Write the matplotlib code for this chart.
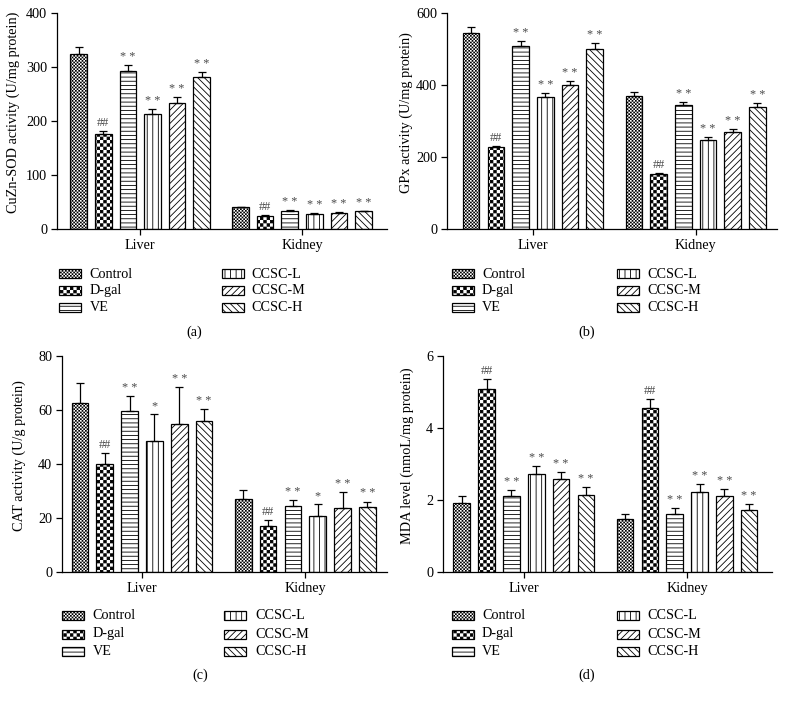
import numpy as np
import matplotlib
matplotlib.use("Agg")
import matplotlib.pyplot as plt
import matplotlib.hatch as mhatch
from matplotlib.path import Path
from matplotlib.patches import Rectangle

# ---------------- data ----------------
tissues = ["Liver", "Kidney"]
groups = ["Control", "D-gal", "VE", "CCSC-L", "CCSC-M", "CCSC-H"]

sod_liver = [325, 176, 293, 213, 233, 281]
sod_liver_err = [12, 5, 11, 9, 11, 10]
sod_kidney = [40, 25, 34, 28, 30, 33]
sod_kidney_err = [1, 1, 1, 1, 1, 1]

gpx_liver = [544, 227, 507, 368, 399, 501]
gpx_liver_err = [16, 4, 15, 10, 12, 16]
gpx_kidney = [369, 153, 344, 248, 269, 340]
gpx_kidney_err = [11, 3, 8, 8, 9, 9]

cat_liver = [62.5, 39.9, 59.5, 48.6, 54.7, 56.0]
cat_liver_err = [7.4, 4.1, 5.6, 9.8, 13.9, 4.5]
cat_kidney = [27.1, 17.2, 24.6, 20.9, 23.8, 24.2]
cat_kidney_err = [3.1, 1.9, 1.9, 4.3, 5.7, 1.9]

mda_liver = [1.91, 5.07, 2.12, 2.71, 2.59, 2.15]
mda_liver_err = [0.19, 0.28, 0.16, 0.24, 0.18, 0.20]
mda_kidney = [1.47, 4.55, 1.61, 2.23, 2.12, 1.73]
mda_kidney_err = [0.15, 0.26, 0.16, 0.21, 0.18, 0.15]

sig_std = ["", "##", "**", "**", "**", "**"]
sig_cat = ["", "##", "**", "*", "**", "**"]

ylabels = ["CuZn-SOD activity (U/mg protein)", "GPx activity (U/mg protein)",
           "CAT activity (U/g protein)", "MDA level (nmoL/mg protein)"]
yticks_list = [[0, 100, 200, 300, 400], [0, 200, 400, 600],
               [0, 20, 40, 60, 80], [0, 2, 4, 6]]
captions = ["(a)", "(b)", "(c)", "(d)"]

# ---------------- custom checker hatches ----------------
HATCH_LW = 0.6
plt.rcParams['hatch.linewidth'] = HATCH_LW
plt.rcParams['hatch.color'] = 'black'
_lw_px = HATCH_LW * 100 / 72.0


class _Checker(mhatch.HatchPatternBase):
    char = 'O'

    def __init__(self, hatch, density):
        n = int(hatch.count(self.char) * density)
        if n % 2:
            n += 1
        self.n = n
        self.num_vertices = (n * n // 2) * 5 if n else 0

    def set_vertices_and_codes(self, vertices, codes):
        n = self.n
        s = 1.0 / n
        sh = (_lw_px / 2.0) / 100.0
        verts = []
        for i in range(n):
            for j in range(n):
                if (i + j) % 2 == 0:
                    x0, y0 = i * s + sh, j * s + sh
                    x1, y1 = (i + 1) * s - sh, (j + 1) * s - sh
                    verts.extend([(x0, y0), (x1, y0), (x1, y1), (x0, y1), (x0, y0)])
        vertices[:] = np.array(verts)
        codes[:] = [Path.MOVETO, Path.LINETO, Path.LINETO, Path.LINETO,
                    Path.CLOSEPOLY] * (n * n // 2)


class _FineChecker(_Checker):
    char = 'o'


class _CoarseChecker(_Checker):
    char = 'O'


if hasattr(mhatch, "_hatch_types"):
    mhatch._hatch_types = [c for c in mhatch._hatch_types
                           if c not in (mhatch.SmallCircles, mhatch.LargeCircles)]
    mhatch._hatch_types += [_FineChecker, _CoarseChecker]
    hatches = ["o" * 10, "O" * 5, "----", "|||", "/////", "\\\\\\\\\\"]
else:
    hatches = ["xxxxxx", "++", "----", "|||", "/////", "\\\\\\\\\\"]

# ---------------- figure ----------------
plt.rcParams['font.family'] = ['Liberation Serif', 'DejaVu Serif']
W, H = 785, 701
fig = plt.figure(figsize=(W / 100, H / 100), dpi=100)
fig.patch.set_facecolor('white')


def fx(x):
    return x / W


def fy(y):
    return 1 - y / H


panels = [
    dict(box=(57, 13, 387, 229), xlim=(-0.514, 1.525), ylab_x=20,
         data=[(sod_liver, sod_liver_err), (sod_kidney, sod_kidney_err)], sig=sig_std),
    dict(box=(447, 13, 777, 229), xlim=(-0.528, 1.50), ylab_x=413,
         data=[(gpx_liver, gpx_liver_err), (gpx_kidney, gpx_kidney_err)], sig=sig_std),
    dict(box=(62, 356, 387, 572), xlim=(-0.49, 1.50), ylab_x=26,
         data=[(cat_liver, cat_liver_err), (cat_kidney, cat_kidney_err)], sig=sig_cat),
    dict(box=(443, 356, 772, 572), xlim=(-0.495, 1.52), ylab_x=414,
         data=[(mda_liver, mda_liver_err), (mda_kidney, mda_kidney_err)], sig=sig_std),
]

legend_specs = [
    dict(col_x=(59, 222), text_x=(89.5, 251), rows=(274, 290.7, 307.3), cap=(194.5, 332)),
    dict(col_x=(452, 617), text_x=(482, 647), rows=(274, 290.7, 307.3), cap=(587, 332)),
    dict(col_x=(62, 224), text_x=(92.5, 255), rows=(615.7, 634, 651.7), cap=(200, 675)),
    dict(col_x=(452, 617), text_x=(482, 647), rows=(615.7, 634, 651.7), cap=(587, 675)),
]

step = 0.152
bw = 0.102
FS = 10.2
FS_Y = 10.3
MARK_COLOR = '#4a4a4a'

for k, p in enumerate(panels):
    l, t, r, b = p['box']
    ax = fig.add_axes([fx(l), fy(b), fx(r) - fx(l), fy(t) - fy(b)])
    for gi, (vals, errs) in enumerate(p['data']):
        for i in range(len(groups)):
            xc = gi + (i - 2.5) * step
            ax.bar(xc, vals[i], width=bw, facecolor='white', edgecolor='black',
                   linewidth=0.9, hatch=hatches[i], zorder=2)
            ax.errorbar(xc, vals[i], yerr=[[0], [errs[i]]], fmt='none',
                        ecolor='black', elinewidth=0.9, capsize=3.2,
                        capthick=0.9, zorder=3)
            m = p['sig'][i]
            if m:
                txt = "* *" if m == "**" else m
                ax.annotate(txt, (xc, vals[i] + errs[i]), xytext=(0, 1.5),
                            textcoords='offset points', ha='center', va='bottom',
                            fontsize=8.8, color=MARK_COLOR)
    ax.set_xlim(*p['xlim'])
    yt = yticks_list[k]
    ax.set_ylim(0, yt[-1])
    ax.set_yticks(yt)
    ax.set_xticks(range(len(tissues)))
    ax.set_xticklabels(tissues)
    ax.set_ylabel(ylabels[k], fontsize=FS_Y)
    ax.yaxis.set_label_coords((p['ylab_x'] - l) / (r - l), 0.54)
    for s in ['top', 'right']:
        ax.spines[s].set_visible(False)
    for s in ['left', 'bottom']:
        ax.spines[s].set_linewidth(0.9)
    ax.tick_params(direction='out', length=4, width=0.9, labelsize=FS, pad=3)
    ax.patch.set_alpha(0)

    # legend drawn manually
    lg = legend_specs[k]
    for i, g in enumerate(groups):
        col = i // 3
        row = i % 3
        x0 = lg['col_x'][col]
        yc = lg['rows'][row]
        rect = Rectangle((fx(x0), fy(yc + 4.5)), fx(22), 9 / H,
                         transform=fig.transFigure, facecolor='white',
                         edgecolor='black', linewidth=0.9, hatch=hatches[i])
        fig.add_artist(rect)
        fig.text(fx(lg['text_x'][col]), fy(yc), g, fontsize=FS,
                 ha='left', va='center')
    fig.text(fx(lg['cap'][0]), fy(lg['cap'][1]), captions[k], fontsize=FS,
             ha='center', va='center')

fig.savefig("out.png", dpi=100, facecolor='white')
